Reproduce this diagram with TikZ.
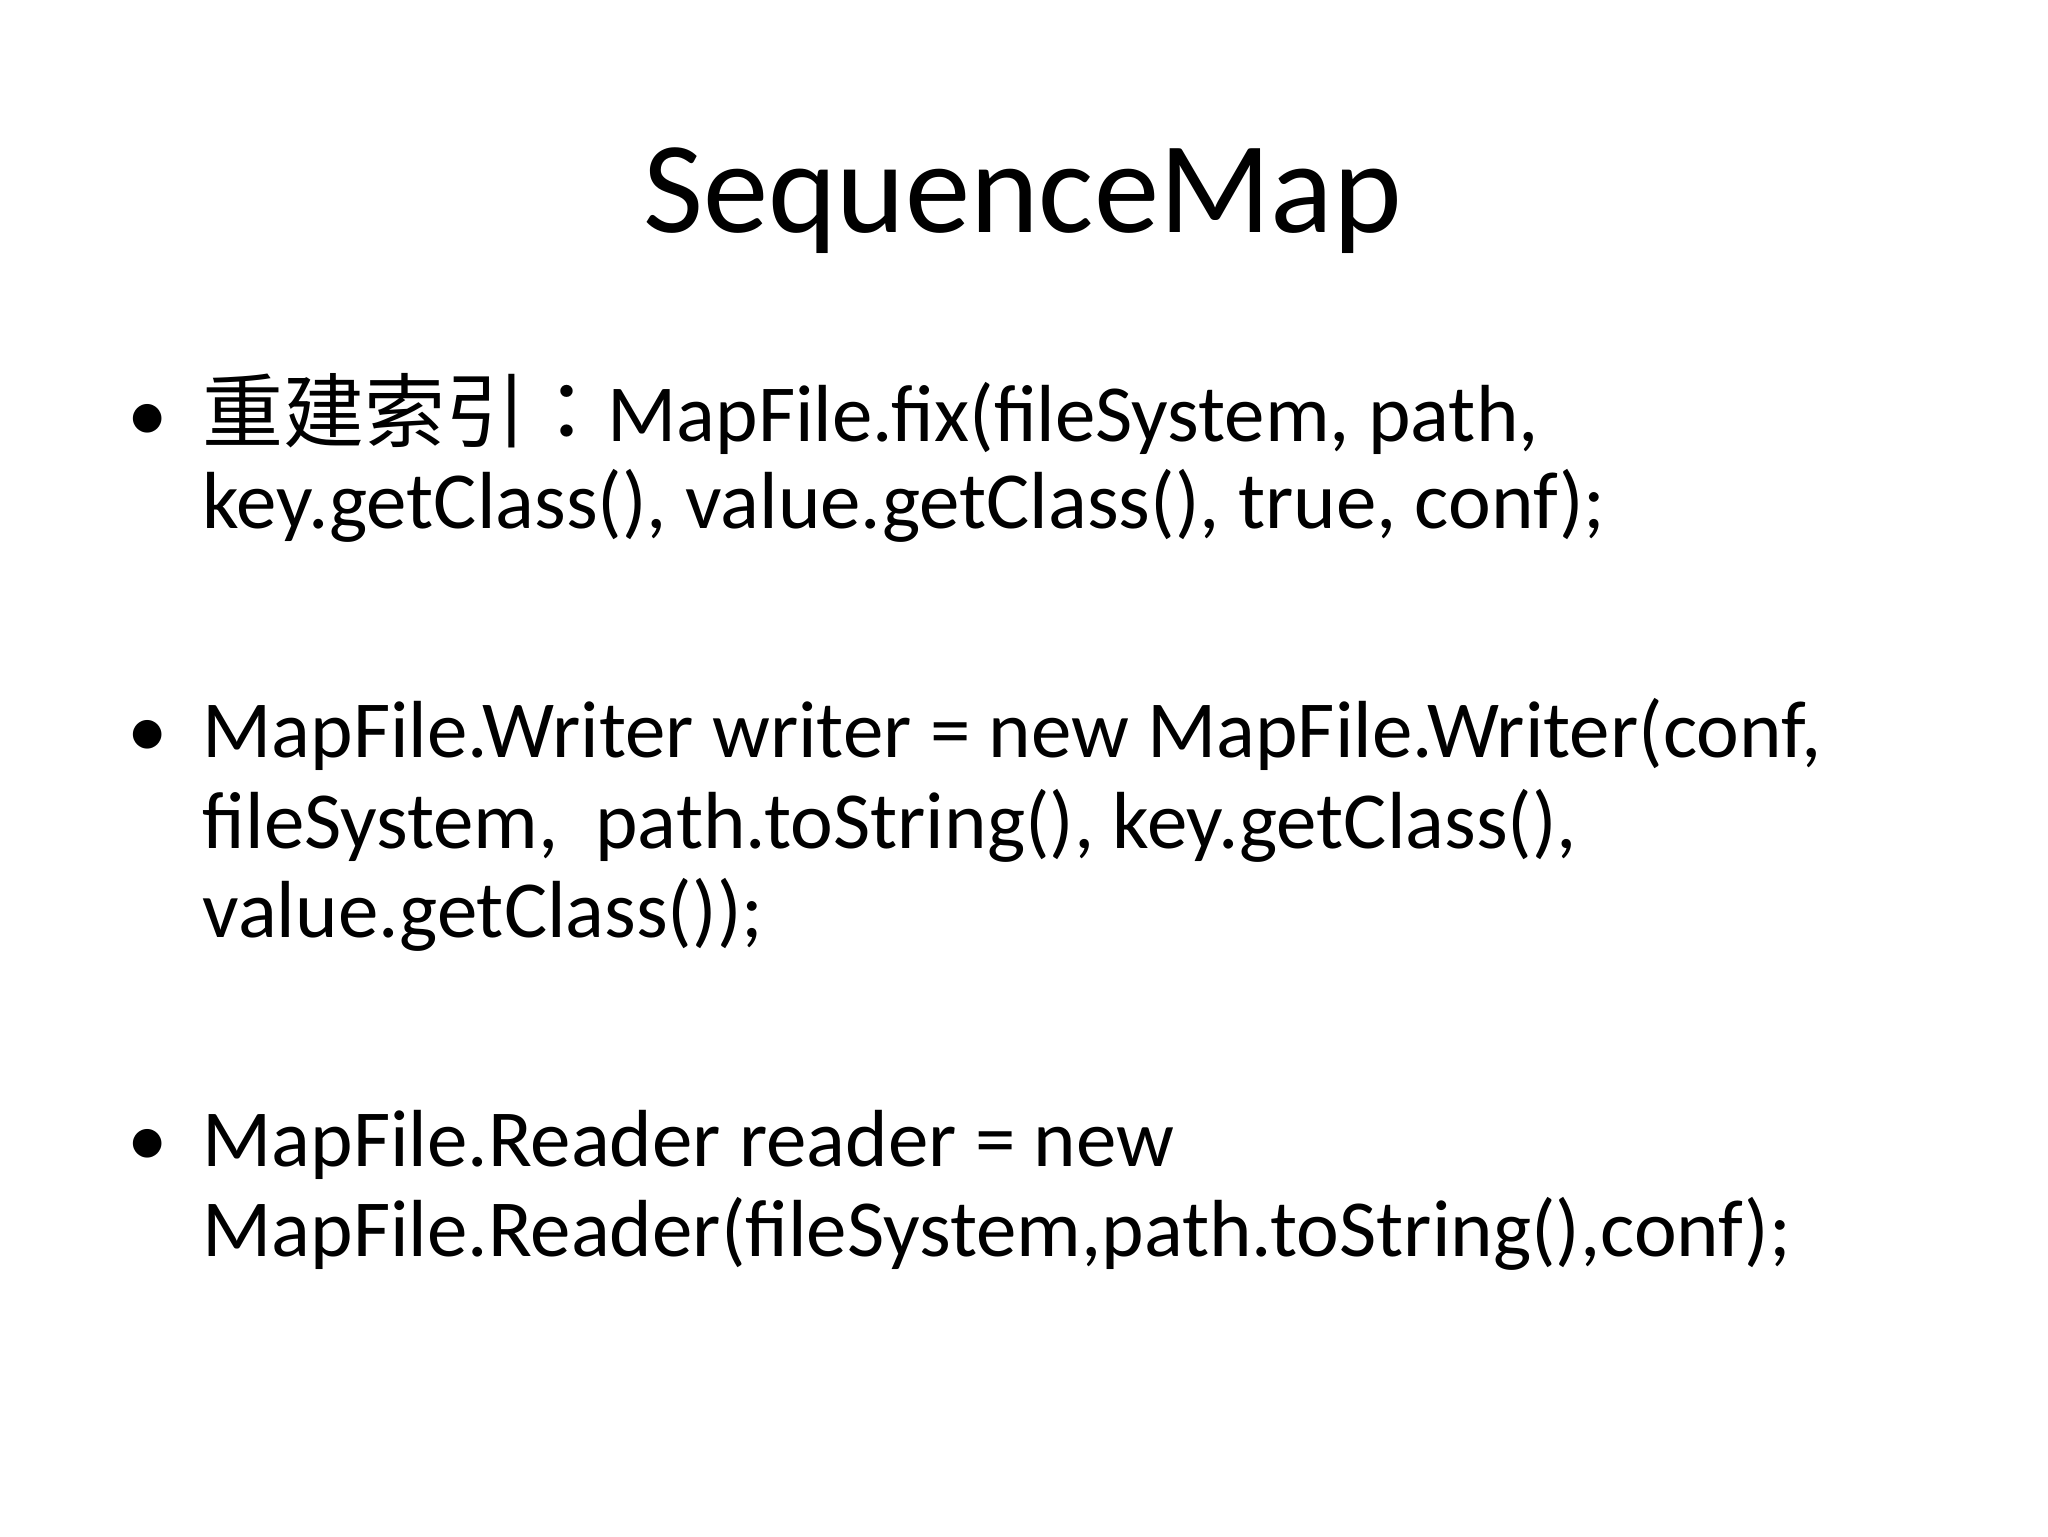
\documentclass[tikz,border=0pt]{standalone}
\usepackage{fontspec}
\setmainfont{Carlito}
\newfontfamily\cjk{Noto Sans CJK TC}
\begin{document}
\begin{tikzpicture}[x=1pt,y=-1pt,
  ln/.style={anchor=base west,inner sep=0pt,font=\fontsize{62}{68}\selectfont},
  bul/.style={anchor=base,inner sep=0pt,font=\fontsize{62}{68}\selectfont}]
\useasboundingbox[fill=white] (0,0) rectangle (1568,1176);
\node[anchor=base,inner sep=0pt,font=\fontsize{100}{110}\selectfont] (title) at (783,178) {SequenceMap};
\node[bul] (b1) at (113,338) {•};
\node[ln] (l1) at (155,338) {{\cjk 重建索引：}MapFile.fix(fileSystem, path,};
\node[ln] (l2) at (155,405) {key.getClass(), value.getClass(), true, conf);};
\node[bul] (b2) at (113,580) {•};
\node[ln] (l3) at (155,580) {MapFile.Writer writer = new MapFile.Writer(conf,};
\node[ln] (l4) at (155,650) {fileSystem,\ \ path.toString(), key.getClass(),};
\node[ln] (l5) at (155,718) {value.getClass());};
\node[bul] (b3) at (113,893) {•};
\node[ln] (l6) at (155,893) {MapFile.Reader reader = new};
\node[ln] (l7) at (155,962) {MapFile.Reader(fileSystem,path.toString(),conf);};
\end{tikzpicture}
\end{document}
